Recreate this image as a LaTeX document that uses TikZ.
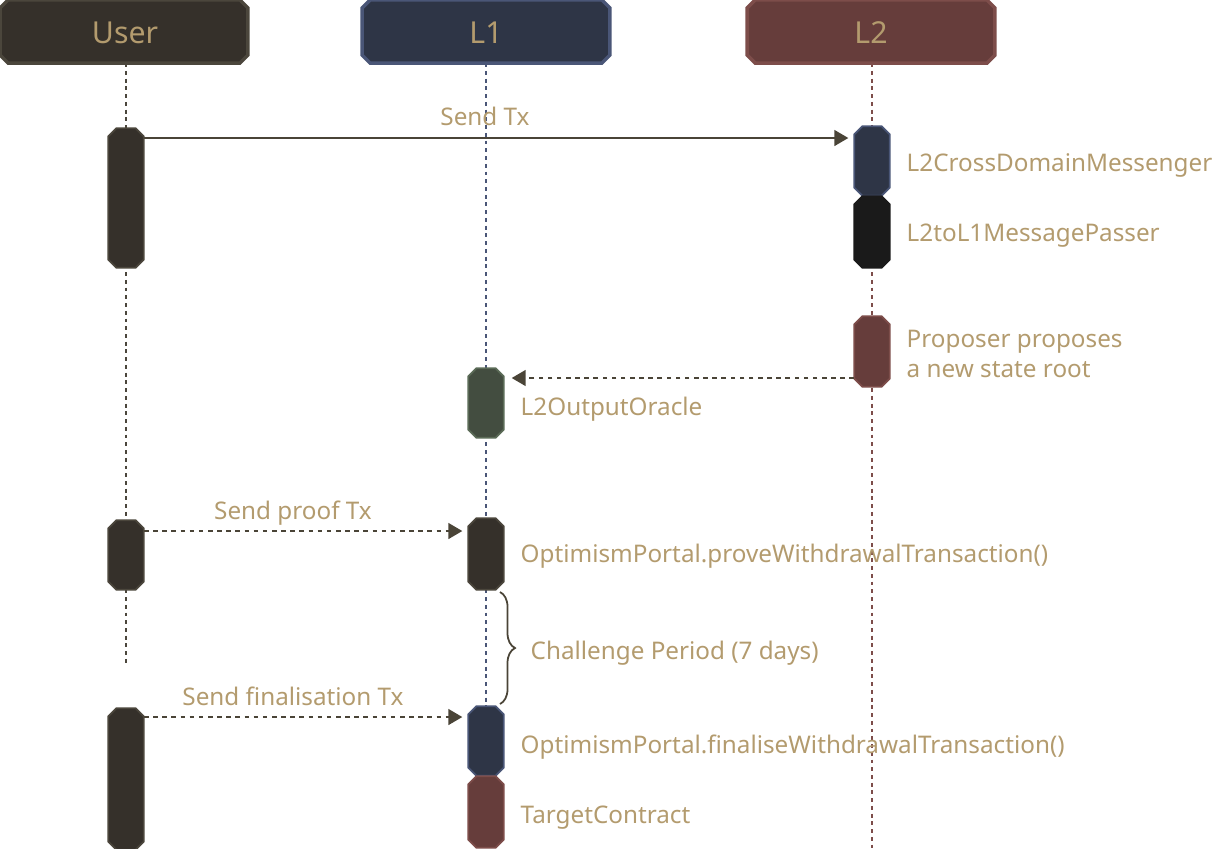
\documentclass[tikz,border=0pt]{standalone}
\usepackage{fontspec}
\setmainfont{Noto Sans}
\usetikzlibrary{arrows.meta,decorations.pathreplacing}

\definecolor{usrfill}{HTML}{35302A}
\definecolor{usrdraw}{HTML}{4B463C}
\definecolor{lonefill}{HTML}{2E3546}
\definecolor{lonedraw}{HTML}{4A5677}
\definecolor{ltwofill}{HTML}{663D3B}
\definecolor{ltwodraw}{HTML}{7D4D4A}
\definecolor{orafill}{HTML}{434D40}
\definecolor{oradraw}{HTML}{5B6B57}
\definecolor{pasfill}{HTML}{1A1A1A}
\definecolor{txtcol}{HTML}{B39B6E}
\definecolor{arrcol}{HTML}{4A4437}

% chamfered box: name, position, width, height, fill, draw, line width
\newcommand{\chbox}[7]{%
  \node[minimum width=#3, minimum height=#4, inner sep=0pt] (#1) at #2 {};
  \draw[fill=#5, draw=#6, line width=#7]
    ([xshift=0.08cm]#1.north west) -- ([xshift=-0.08cm]#1.north east)
    -- ([yshift=-0.08cm]#1.north east) -- ([yshift=0.08cm]#1.south east)
    -- ([xshift=-0.08cm]#1.south east) -- ([xshift=0.08cm]#1.south west)
    -- ([yshift=0.08cm]#1.south west) -- ([yshift=-0.08cm]#1.north west) -- cycle;
}

\tikzset{
  head/.style={text=txtcol, font=\fontsize{8.6}{10}\selectfont, inner sep=0pt},
  life/.style={line width=0.45pt, dash pattern=on 1.1pt off 1.1pt},
  msg/.style={arrcol, line width=0.45pt, -{Triangle[length=0.14cm,width=0.16cm]}},
  lbl/.style={text=txtcol, font=\fontsize{6.9}{8.5}\selectfont, inner sep=0pt},
}

\begin{document}
\begin{tikzpicture}[x=0.01cm, y=-0.01cm]
\useasboundingbox (0,0) rectangle (1216,848);

% Actors
\chbox{user}{(124,31.5)}{2.46cm}{0.62cm}{usrfill}{usrdraw}{1pt}
\chbox{lone}{(486,31.5)}{2.46cm}{0.62cm}{lonefill}{lonedraw}{1pt}
\chbox{ltwo}{(871,31.5)}{2.46cm}{0.62cm}{ltwofill}{ltwodraw}{1pt}
\node[head, anchor=base] (userl) at (125,43) {User};
\node[head, anchor=base] (lonel) at (486,43) {L1};
\node[head, anchor=base] (ltwol) at (871,43) {L2};

% Lifelines
\coordinate (userend) at (126,663);
\coordinate (loneend) at (486,848);
\coordinate (ltwoend) at (872,848);
\draw[life, usrdraw] (user.south -| userend) -- (userend);
\draw[life, lonedraw] (lone.south -| loneend) -- (loneend);
\draw[life, ltwodraw] (ltwo.south -| ltwoend) -- (ltwoend);

% Activations
\chbox{usend}{(126,198)}{0.34cm}{1.38cm}{usrfill}{usrdraw}{0.5pt}
\chbox{cdm}{(872,161)}{0.34cm}{0.68cm}{lonefill}{lonedraw}{0.5pt}
\chbox{passer}{(872,232)}{0.34cm}{0.70cm}{pasfill}{pasfill}{0.5pt}
\chbox{prop}{(872,351.5)}{0.34cm}{0.69cm}{ltwofill}{ltwodraw}{0.5pt}
\chbox{oracle}{(486,403)}{0.34cm}{0.68cm}{orafill}{oradraw}{0.5pt}
\chbox{uproof}{(126,555)}{0.34cm}{0.68cm}{usrfill}{usrdraw}{0.5pt}
\chbox{prove}{(486,554)}{0.34cm}{0.70cm}{usrfill}{usrdraw}{0.5pt}
\chbox{ufinal}{(126,779)}{0.34cm}{1.40cm}{usrfill}{usrdraw}{0.5pt}
\chbox{finalise}{(486,741)}{0.34cm}{0.68cm}{lonefill}{lonedraw}{0.5pt}
\chbox{target}{(486,812)}{0.34cm}{0.70cm}{ltwofill}{ltwodraw}{0.5pt}

% Messages
\coordinate (m1) at (144,138);
\draw[msg] (m1) -- ([xshift=-0.06cm]m1 -| cdm.west);
\node[lbl, anchor=base] (m1l) at (485,125) {Send Tx};

\coordinate (m2) at (854,378);
\draw[msg, dash pattern=on 1.3pt off 1.3pt] (m2) -- ([xshift=0.08cm]m2 -| oracle.east);

\coordinate (m3) at (144,531);
\draw[msg, dash pattern=on 1.3pt off 1.3pt] (m3) -- ([xshift=-0.06cm]m3 -| prove.west);
\node[lbl, anchor=base] (m3l) at (293,519) {Send proof Tx};

\coordinate (m4) at (144,717);
\draw[msg, dash pattern=on 1.3pt off 1.3pt] (m4) -- ([xshift=-0.06cm]m4 -| finalise.west);
\node[lbl, anchor=base] (m4l) at (293,705) {Send finalisation Tx};

% Challenge period
\coordinate (bra) at (500,592);
\coordinate (brb) at (500,704);
\draw[arrcol, line width=0.5pt, decorate, decoration={brace, amplitude=0.15cm}] (bra) -- (brb);
\node[lbl, anchor=base west] (chal) at (530,659) {Challenge Period (7 days)};

% Labels
\node[lbl, anchor=base west] (cdml) at (906,171) {L2CrossDomainMessenger};
\node[lbl, anchor=base west] (pasl) at (906,241) {L2toL1MessagePasser};
\node[lbl, anchor=base west] (propl) at (906,347) {Proposer proposes};
\node[lbl, anchor=base west] (propm) at (906,377) {a new state root};
\node[lbl, anchor=base west] (oral) at (520,415) {L2OutputOracle};
\node[lbl, anchor=base west] (provel) at (520,562) {OptimismPortal.proveWithdrawalTransaction()};
\node[lbl, anchor=base west] (finl) at (520,753) {OptimismPortal.finaliseWithdrawalTransaction()};
\node[lbl, anchor=base west] (targl) at (520,823) {TargetContract};
\end{tikzpicture}
\end{document}
